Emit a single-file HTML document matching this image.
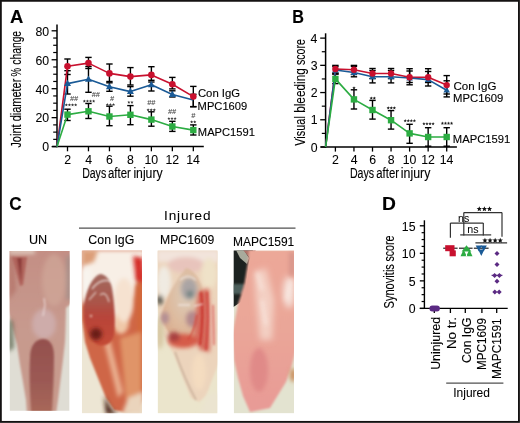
<!DOCTYPE html>
<html><head><meta charset="utf-8"><style>
html,body{margin:0;padding:0;background:#fff;}
svg{display:block;will-change:transform;font-family:"Liberation Sans", sans-serif;}
</style></head><body>
<svg width="520" height="423" viewBox="0 0 520 423" font-family='"Liberation Sans", sans-serif'>
<rect width="520" height="423" fill="#fff"/>
<defs>
<filter id="b05" x="-20%" y="-20%" width="140%" height="140%"><feGaussianBlur stdDeviation="0.5"/></filter>
<filter id="b1" x="-20%" y="-20%" width="140%" height="140%"><feGaussianBlur stdDeviation="0.9"/></filter>
<filter id="b2" x="-30%" y="-30%" width="160%" height="160%"><feGaussianBlur stdDeviation="2"/></filter>
<filter id="b3" x="-40%" y="-40%" width="180%" height="180%"><feGaussianBlur stdDeviation="3.2"/></filter>
<clipPath id="cUN"><rect x="9.6" y="251" width="60" height="159.8"/></clipPath>
<clipPath id="cCI"><rect x="81.8" y="250.6" width="60.2" height="162.6"/></clipPath>
<clipPath id="cMP"><rect x="157.6" y="250.6" width="59.8" height="162.6"/></clipPath>
<clipPath id="cMA"><rect x="233.7" y="250.6" width="60.3" height="162.6"/></clipPath>
<linearGradient id="gUNov" x1="0" y1="0" x2="0" y2="1"><stop offset="0" stop-color="#94504e"/><stop offset="0.6" stop-color="#9c5a54"/><stop offset="1" stop-color="#a8685a"/></linearGradient>
<linearGradient id="gUNleg" x1="0" y1="0" x2="0" y2="1"><stop offset="0" stop-color="#c48e84"/><stop offset="0.5" stop-color="#c79a8e"/><stop offset="1" stop-color="#c89a8c"/></linearGradient>
<radialGradient id="gCIdome" cx="0.5" cy="0.3" r="0.75"><stop offset="0" stop-color="#c07060"/><stop offset="0.5" stop-color="#b84e40"/><stop offset="1" stop-color="#c4503a"/></radialGradient>
<linearGradient id="gMAleg" x1="0" y1="0" x2="0" y2="1"><stop offset="0" stop-color="#eca898"/><stop offset="0.5" stop-color="#eaa698"/><stop offset="1" stop-color="#e89a96"/></linearGradient>
<radialGradient id="gMPdome" cx="0.55" cy="0.35" r="0.7"><stop offset="0" stop-color="#dccbb8"/><stop offset="0.6" stop-color="#deb99c"/><stop offset="1" stop-color="#d6a88a"/></radialGradient>
</defs>
<g clip-path="url(#cUN)">
<rect x="9.6" y="251" width="60" height="160" fill="#dfddd4"/>
<g filter="url(#b1)">
<path d="M5,246 L75,246 L75,300 L66,308 L65.5,330 L65,342 L63,360 L60.5,380 L58,400 L56,414 L27,414 L26,400 L23,382 L20,365 L17,345 L13,330 L8,310 Z" fill="url(#gUNleg)"/>
</g>
<g filter="url(#b2)">
<path d="M9,256 L14,256 L16,290 L9,300 Z" fill="#b87a70"/>
<ellipse cx="54" cy="280" rx="12" ry="26" fill="#d0a898" opacity="0.7"/>
<ellipse cx="44" cy="324" rx="12" ry="15" fill="#d0b0b2" opacity="0.8"/>
<path d="M8,318 L13,322 L14,348 L8,352 Z" fill="#56624a" opacity="0.75"/>
<rect x="66" y="256" width="6" height="44" fill="#9d8f8a" opacity="0.7"/>
<rect x="9" y="249" width="26" height="5" fill="#e2d0c4" opacity="0.9"/>
</g>
<g filter="url(#b1)">
<path d="M12,257 L27,257 L23,285 L20,286 Z" fill="#b0645c"/>
<path d="M17,258 L22,258 L21,282 Z" fill="#8e3c3a"/>
<path d="M44,298 L45,305 L43,316" stroke="#efe0e0" stroke-width="1" fill="none"/>
</g>
<g filter="url(#b1)">
<path d="M30,358 C30,345 36,339 43,339 C50,339 54,345 54,356 C54,375 53,393 52,412 L31,412 C30,395 29,375 30,358 Z" fill="url(#gUNov)"/>
</g>
</g>
<g clip-path="url(#cCI)">
<rect x="81.8" y="250.6" width="61" height="163" fill="#ede6d4"/>
<g filter="url(#b1)">
<path d="M82,250 L145,250 L145,395 L138,408 L124,412 L114,410 L106,398 L98,378 L90,358 L85,342 L82,320 Z" fill="#cf6646"/>
</g>
<g filter="url(#b2)">
<path d="M82,250 L145,250 L145,262 L138,275 L135,295 L130,318 L122,334 L112,326 L106,292 L92,290 L82,300 Z" fill="#f8efe6"/>
<ellipse cx="121" cy="322" rx="8" ry="12" fill="#f0c8a8"/>
<ellipse cx="124" cy="300" rx="10" ry="22" fill="#f6e2d0"/>
</g>
<g filter="url(#b2)">
<path d="M82,250 L98,250 L94,262 L82,266 Z" fill="#dc9e78"/>
<path d="M82,268 L92,270 L90,300 L82,305 Z" fill="#f8f4ee"/>
<path d="M133,256 L143,258 L143,284 L136,280 Z" fill="#d42c28"/>
<path d="M136,285 L144,282 L144,400 L137,400 Z" fill="#d2683a"/>
<path d="M120,338 L141,332 L141,395 L126,400 Z" fill="#e09468"/>
<path d="M104,342 L110,340 L123,392 L118,398 Z" fill="#eab090"/>
<path d="M128,398 L143,392 L143,414 L122,414 Z" fill="#ead4bc"/>
</g>
<linearGradient id="gCId2" x1="0" y1="0" x2="0" y2="1"><stop offset="0" stop-color="#a46a60"/><stop offset="0.35" stop-color="#a8584c"/><stop offset="0.6" stop-color="#b8443a"/><stop offset="1" stop-color="#c44a36"/></linearGradient>
<g filter="url(#b1)">
<path d="M100,274 C92,277 86,290 84,305 C83,322 86,336 96,344 C104,348 112,344 114,335 C116,318 114,300 112,288 C110,279 105,274 100,274 Z" fill="url(#gCId2)"/>
</g>
<g filter="url(#b2)">
<circle cx="96" cy="334" r="6" fill="#6a1a16"/>
<path d="M104,396 L112,410 L118,414 L106,414 Z" fill="#4a2418"/>
</g>
<g filter="url(#b1)" opacity="0.7">
<path d="M92,289 Q100,278 111,281" stroke="#f4ece8" stroke-width="1.6" fill="none"/>
<path d="M100,295 Q106,290 109,302" stroke="#f4ece8" stroke-width="1.4" fill="none"/>
<path d="M89,300 L96,292" stroke="#f4ece8" stroke-width="1.2" fill="none"/>
<circle cx="91" cy="316" r="1.3" fill="#f0e0d0"/>
</g>
</g>
<g clip-path="url(#cMP)">
<rect x="157.6" y="250.6" width="60" height="163" fill="#ebe5cc"/>
<g filter="url(#b1)">
<path d="M157,250 L220,250 L220,360 L212,380 L206,396 L199,402 L191,398 L183,378 L174,355 L165,338 L160,320 L157,300 Z" fill="#ecd4bc"/>
</g>
<g filter="url(#b2)">
<rect x="157" y="250" width="62" height="12" fill="#f2e4dc"/>
<ellipse cx="186" cy="265" rx="18" ry="8" fill="#e8c4bc"/>
<ellipse cx="164" cy="282" rx="7" ry="16" fill="#f0ebe2"/>
<ellipse cx="209" cy="274" rx="8" ry="16" fill="#efe2c8"/>
<ellipse cx="160" cy="300" rx="3" ry="5" fill="#4e5048"/>
<ellipse cx="160" cy="333" rx="4" ry="16" fill="#d8c8a4"/>
<ellipse cx="212" cy="325" rx="5" ry="22" fill="#ecc8b8"/>
</g>
<g filter="url(#b1)">
<path d="M186,268 C196,270 203,285 205,300 C205,318 199,335 188,345 C178,345 168,335 161,318 C163,305 172,285 186,268 Z" fill="url(#gMPdome)"/>
</g>
<g filter="url(#b2)">
<ellipse cx="189" cy="289" rx="8" ry="11" fill="#aaa4a4"/>
<circle cx="190" cy="294" r="3.5" fill="#6e8280"/>
<ellipse cx="192" cy="319" rx="6" ry="8" fill="#a87c88" opacity="0.8"/>
<ellipse cx="165" cy="318" rx="4" ry="6" fill="#a88494" opacity="0.8"/>
<path d="M198,292 L209,288 L210,352 L200,350 L194,336 Z" fill="#d66a5c"/>
<ellipse cx="183" cy="341" rx="15" ry="7" fill="#d65c48"/>
<ellipse cx="174" cy="337" rx="6" ry="5" fill="#a84040"/>
<ellipse cx="199" cy="372" rx="7" ry="18" fill="#f4dcc0"/>
<path d="M207,395 L218,392 L218,414 L200,414 Z" fill="#ebe4d0"/>
</g>
<g filter="url(#b1)">
<path d="M201,292 Q204,315 200,345" stroke="#c8302c" stroke-width="2" fill="none"/>
<path d="M207,292 Q209,318 206,350" stroke="#cc3a34" stroke-width="1.6" fill="none"/>
<path d="M213,305 L214,345" stroke="#d85a50" stroke-width="1.2" fill="none"/>
<path d="M197,315 Q195,330 188,340" stroke="#d24a3e" stroke-width="1.5" fill="none"/>
</g>
<g filter="url(#b1)" opacity="0.35">
<path d="M175,352 Q185,380 196,400" stroke="#6a5040" stroke-width="1.2" fill="none"/>
</g>
<g filter="url(#b1)" opacity="0.7">
<path d="M180,280 Q188,273 196,280" stroke="#f6f0ee" stroke-width="1.4" fill="none"/>
<path d="M178,305 L190,305 M194,306 L203,304" stroke="#f6f0ee" stroke-width="1.4" fill="none"/>
</g>
</g>
<g clip-path="url(#cMA)">
<rect x="233.7" y="250.6" width="61" height="163" fill="#e3e3d0"/>
<path d="M232,250 L253,250 L249,262 L246,285 L241,302 L232,308 Z" fill="#1c2220"/>
<g filter="url(#b05)"><path d="M236,250 L244,250 L249,258 L247,264 L240,258 Z" fill="#a8aa9c"/><path d="M243,250 L256,250 L250,258 Z" fill="#b07268"/></g>
<g filter="url(#b1)">
<path d="M232,284 L246,284 L244,294 L232,294 Z" fill="#586e6c" opacity="0.8"/>
<path d="M249,250 L297,250 L297,345 L292,365 L286,382 L278,395 L270,408 L250,412 L243,396 L238,378 L234,360 L232,335 L238,304 L244,286 L248,262 Z" fill="url(#gMAleg)"/>
</g>
<g filter="url(#b3)">
<path d="M254,272 L266,268 L274,300 L272,340 L260,340 L256,300 Z" fill="#f4d4c8" opacity="0.9"/>
<ellipse cx="289" cy="292" rx="6" ry="16" fill="#f6e2da"/>
</g>
<g filter="url(#b2)" opacity="0.8">
<path d="M257,272 L262,290 M262,300 L266,325" stroke="#fbeee8" stroke-width="2.5" fill="none"/>
<path d="M292,280 L286,300" stroke="#fbeee8" stroke-width="2.5" fill="none"/>
</g>
<g filter="url(#b2)">
<rect x="289" y="252" width="6" height="24" fill="#d8958a"/>
<ellipse cx="259" cy="370" rx="9" ry="22" fill="#e08a88"/>
<ellipse cx="293" cy="375" rx="3" ry="7" fill="#c98a58"/>
</g>
</g>
<text x="10.14" y="23.0" font-size="17.6" font-weight="bold" fill="#000" stroke="#000" stroke-width="0.12" textLength="13.35" lengthAdjust="spacingAndGlyphs" >A</text>
<line x1="57.0" y1="24.5" x2="57.0" y2="147.2" stroke="#000" stroke-width="1.5"/>
<line x1="51.6" y1="146.6" x2="57.0" y2="146.6" stroke="#000" stroke-width="1.3"/>
<line x1="53.2" y1="139.36249999999998" x2="57.0" y2="139.36249999999998" stroke="#000" stroke-width="1.2"/>
<line x1="53.2" y1="132.125" x2="57.0" y2="132.125" stroke="#000" stroke-width="1.2"/>
<line x1="53.2" y1="124.88749999999999" x2="57.0" y2="124.88749999999999" stroke="#000" stroke-width="1.2"/>
<line x1="51.6" y1="117.64999999999999" x2="57.0" y2="117.64999999999999" stroke="#000" stroke-width="1.3"/>
<line x1="53.2" y1="110.4125" x2="57.0" y2="110.4125" stroke="#000" stroke-width="1.2"/>
<line x1="53.2" y1="103.175" x2="57.0" y2="103.175" stroke="#000" stroke-width="1.2"/>
<line x1="53.2" y1="95.9375" x2="57.0" y2="95.9375" stroke="#000" stroke-width="1.2"/>
<line x1="51.6" y1="88.69999999999999" x2="57.0" y2="88.69999999999999" stroke="#000" stroke-width="1.3"/>
<line x1="53.2" y1="81.46249999999999" x2="57.0" y2="81.46249999999999" stroke="#000" stroke-width="1.2"/>
<line x1="53.2" y1="74.225" x2="57.0" y2="74.225" stroke="#000" stroke-width="1.2"/>
<line x1="53.2" y1="66.9875" x2="57.0" y2="66.9875" stroke="#000" stroke-width="1.2"/>
<line x1="51.6" y1="59.75" x2="57.0" y2="59.75" stroke="#000" stroke-width="1.3"/>
<line x1="53.2" y1="52.51249999999999" x2="57.0" y2="52.51249999999999" stroke="#000" stroke-width="1.2"/>
<line x1="53.2" y1="45.27499999999999" x2="57.0" y2="45.27499999999999" stroke="#000" stroke-width="1.2"/>
<line x1="53.2" y1="38.037499999999994" x2="57.0" y2="38.037499999999994" stroke="#000" stroke-width="1.2"/>
<line x1="51.6" y1="30.799999999999997" x2="57.0" y2="30.799999999999997" stroke="#000" stroke-width="1.3"/>
<text x="42.24" y="151.4" font-size="12.3" font-weight="normal" fill="#000" stroke="#000" stroke-width="0.06" textLength="6.84" lengthAdjust="spacingAndGlyphs" >0</text>
<text x="35.40" y="122.44999999999999" font-size="12.3" font-weight="normal" fill="#000" stroke="#000" stroke-width="0.06" textLength="13.68" lengthAdjust="spacingAndGlyphs" >20</text>
<text x="35.40" y="93.49999999999999" font-size="12.3" font-weight="normal" fill="#000" stroke="#000" stroke-width="0.06" textLength="13.68" lengthAdjust="spacingAndGlyphs" >40</text>
<text x="35.40" y="64.55" font-size="12.3" font-weight="normal" fill="#000" stroke="#000" stroke-width="0.06" textLength="13.68" lengthAdjust="spacingAndGlyphs" >60</text>
<text x="35.40" y="35.599999999999994" font-size="12.3" font-weight="normal" fill="#000" stroke="#000" stroke-width="0.06" textLength="13.68" lengthAdjust="spacingAndGlyphs" >80</text>
<line x1="52.2" y1="146.6" x2="203.8" y2="146.6" stroke="#000" stroke-width="1.5"/>
<line x1="67.5" y1="146.6" x2="67.5" y2="151.3" stroke="#000" stroke-width="1.3"/>
<text x="64.18" y="163.9" font-size="12.3" font-weight="normal" fill="#000" stroke="#000" stroke-width="0.06" textLength="6.84" lengthAdjust="spacingAndGlyphs" >2</text>
<line x1="88.47" y1="146.6" x2="88.47" y2="151.3" stroke="#000" stroke-width="1.3"/>
<text x="85.19" y="163.9" font-size="12.3" font-weight="normal" fill="#000" stroke="#000" stroke-width="0.06" textLength="6.84" lengthAdjust="spacingAndGlyphs" >4</text>
<line x1="109.44" y1="146.6" x2="109.44" y2="151.3" stroke="#000" stroke-width="1.3"/>
<text x="106.08" y="163.9" font-size="12.3" font-weight="normal" fill="#000" stroke="#000" stroke-width="0.06" textLength="6.84" lengthAdjust="spacingAndGlyphs" >6</text>
<line x1="130.41" y1="146.6" x2="130.41" y2="151.3" stroke="#000" stroke-width="1.3"/>
<text x="127.09" y="163.9" font-size="12.3" font-weight="normal" fill="#000" stroke="#000" stroke-width="0.06" textLength="6.84" lengthAdjust="spacingAndGlyphs" >8</text>
<line x1="151.38" y1="146.6" x2="151.38" y2="151.3" stroke="#000" stroke-width="1.3"/>
<text x="144.41" y="163.9" font-size="12.3" font-weight="normal" fill="#000" stroke="#000" stroke-width="0.06" textLength="13.68" lengthAdjust="spacingAndGlyphs" >10</text>
<line x1="172.35" y1="146.6" x2="172.35" y2="151.3" stroke="#000" stroke-width="1.3"/>
<text x="165.45" y="163.9" font-size="12.3" font-weight="normal" fill="#000" stroke="#000" stroke-width="0.06" textLength="13.68" lengthAdjust="spacingAndGlyphs" >12</text>
<line x1="193.32" y1="146.6" x2="193.32" y2="151.3" stroke="#000" stroke-width="1.3"/>
<text x="186.29" y="163.9" font-size="12.3" font-weight="normal" fill="#000" stroke="#000" stroke-width="0.06" textLength="13.68" lengthAdjust="spacingAndGlyphs" >14</text>
<text x="82.13" y="177.7" font-size="14.0" font-weight="normal" fill="#000" stroke="#000" stroke-width="0.12" textLength="24.05" lengthAdjust="spacingAndGlyphs" >Days</text>
<text x="108.02" y="177.7" font-size="14.0" font-weight="normal" fill="#000" stroke="#000" stroke-width="0.12" textLength="22.77" lengthAdjust="spacingAndGlyphs" >after</text>
<text x="133.38" y="177.7" font-size="14.0" font-weight="normal" fill="#000" stroke="#000" stroke-width="0.12" textLength="29.24" lengthAdjust="spacingAndGlyphs" >injury</text>
<text transform="translate(20.9,147.7) rotate(-90)" x="-0.17" y="0" font-size="13.8" fill="#000" stroke="#000" stroke-width="0.12" textLength="23.56" lengthAdjust="spacingAndGlyphs">Joint</text>
<text transform="translate(20.9,120.9) rotate(-90)" x="-0.46" y="0" font-size="13.8" fill="#000" stroke="#000" stroke-width="0.12" textLength="42.74" lengthAdjust="spacingAndGlyphs">diameter</text>
<text transform="translate(20.9,76.1) rotate(-90)" x="-0.34" y="0" font-size="13.8" fill="#000" stroke="#000" stroke-width="0.12" textLength="8.48" lengthAdjust="spacingAndGlyphs">%</text>
<text transform="translate(20.9,64.2) rotate(-90)" x="-0.44" y="0" font-size="13.8" fill="#000" stroke="#000" stroke-width="0.12" textLength="33.69" lengthAdjust="spacingAndGlyphs">change</text>
<line x1="67.5" y1="109.2" x2="67.5" y2="120.5" stroke="#000" stroke-width="1.4"/>
<line x1="64.3" y1="109.2" x2="70.7" y2="109.2" stroke="#000" stroke-width="1.4"/>
<line x1="64.3" y1="120.5" x2="70.7" y2="120.5" stroke="#000" stroke-width="1.4"/>
<line x1="88.47" y1="103.5" x2="88.47" y2="118.5" stroke="#000" stroke-width="1.4"/>
<line x1="85.27" y1="103.5" x2="91.67" y2="103.5" stroke="#000" stroke-width="1.4"/>
<line x1="85.27" y1="118.5" x2="91.67" y2="118.5" stroke="#000" stroke-width="1.4"/>
<line x1="109.44" y1="106.2" x2="109.44" y2="125.7" stroke="#000" stroke-width="1.4"/>
<line x1="106.24" y1="106.2" x2="112.64" y2="106.2" stroke="#000" stroke-width="1.4"/>
<line x1="106.24" y1="125.7" x2="112.64" y2="125.7" stroke="#000" stroke-width="1.4"/>
<line x1="130.41" y1="105.6" x2="130.41" y2="124.7" stroke="#000" stroke-width="1.4"/>
<line x1="127.21" y1="105.6" x2="133.60999999999999" y2="105.6" stroke="#000" stroke-width="1.4"/>
<line x1="127.21" y1="124.7" x2="133.60999999999999" y2="124.7" stroke="#000" stroke-width="1.4"/>
<line x1="151.38" y1="111.8" x2="151.38" y2="126.2" stroke="#000" stroke-width="1.4"/>
<line x1="148.18" y1="111.8" x2="154.57999999999998" y2="111.8" stroke="#000" stroke-width="1.4"/>
<line x1="148.18" y1="126.2" x2="154.57999999999998" y2="126.2" stroke="#000" stroke-width="1.4"/>
<line x1="172.35" y1="121.3" x2="172.35" y2="131.4" stroke="#000" stroke-width="1.4"/>
<line x1="169.15" y1="121.3" x2="175.54999999999998" y2="121.3" stroke="#000" stroke-width="1.4"/>
<line x1="169.15" y1="131.4" x2="175.54999999999998" y2="131.4" stroke="#000" stroke-width="1.4"/>
<line x1="193.32" y1="124.9" x2="193.32" y2="135.0" stroke="#000" stroke-width="1.4"/>
<line x1="190.12" y1="124.9" x2="196.51999999999998" y2="124.9" stroke="#000" stroke-width="1.4"/>
<line x1="190.12" y1="135.0" x2="196.51999999999998" y2="135.0" stroke="#000" stroke-width="1.4"/>
<line x1="67.5" y1="70.7" x2="67.5" y2="94.0" stroke="#000" stroke-width="1.4"/>
<line x1="64.3" y1="70.7" x2="70.7" y2="70.7" stroke="#000" stroke-width="1.4"/>
<line x1="64.3" y1="94.0" x2="70.7" y2="94.0" stroke="#000" stroke-width="1.4"/>
<line x1="88.47" y1="66.5" x2="88.47" y2="92.3" stroke="#000" stroke-width="1.4"/>
<line x1="85.27" y1="66.5" x2="91.67" y2="66.5" stroke="#000" stroke-width="1.4"/>
<line x1="85.27" y1="92.3" x2="91.67" y2="92.3" stroke="#000" stroke-width="1.4"/>
<line x1="109.44" y1="82.8" x2="109.44" y2="91.3" stroke="#000" stroke-width="1.4"/>
<line x1="106.24" y1="82.8" x2="112.64" y2="82.8" stroke="#000" stroke-width="1.4"/>
<line x1="106.24" y1="91.3" x2="112.64" y2="91.3" stroke="#000" stroke-width="1.4"/>
<line x1="130.41" y1="86.6" x2="130.41" y2="96.2" stroke="#000" stroke-width="1.4"/>
<line x1="127.21" y1="86.6" x2="133.60999999999999" y2="86.6" stroke="#000" stroke-width="1.4"/>
<line x1="127.21" y1="96.2" x2="133.60999999999999" y2="96.2" stroke="#000" stroke-width="1.4"/>
<line x1="151.38" y1="82.0" x2="151.38" y2="91.0" stroke="#000" stroke-width="1.4"/>
<line x1="148.18" y1="82.0" x2="154.57999999999998" y2="82.0" stroke="#000" stroke-width="1.4"/>
<line x1="148.18" y1="91.0" x2="154.57999999999998" y2="91.0" stroke="#000" stroke-width="1.4"/>
<line x1="172.35" y1="90.8" x2="172.35" y2="97.0" stroke="#000" stroke-width="1.4"/>
<line x1="169.15" y1="90.8" x2="175.54999999999998" y2="90.8" stroke="#000" stroke-width="1.4"/>
<line x1="169.15" y1="97.0" x2="175.54999999999998" y2="97.0" stroke="#000" stroke-width="1.4"/>
<line x1="193.32" y1="94.3" x2="193.32" y2="106.8" stroke="#000" stroke-width="1.4"/>
<line x1="190.12" y1="94.3" x2="196.51999999999998" y2="94.3" stroke="#000" stroke-width="1.4"/>
<line x1="190.12" y1="106.8" x2="196.51999999999998" y2="106.8" stroke="#000" stroke-width="1.4"/>
<line x1="67.5" y1="59.0" x2="67.5" y2="74.5" stroke="#000" stroke-width="1.4"/>
<line x1="64.3" y1="59.0" x2="70.7" y2="59.0" stroke="#000" stroke-width="1.4"/>
<line x1="64.3" y1="74.5" x2="70.7" y2="74.5" stroke="#000" stroke-width="1.4"/>
<line x1="88.47" y1="57.4" x2="88.47" y2="68.5" stroke="#000" stroke-width="1.4"/>
<line x1="85.27" y1="57.4" x2="91.67" y2="57.4" stroke="#000" stroke-width="1.4"/>
<line x1="85.27" y1="68.5" x2="91.67" y2="68.5" stroke="#000" stroke-width="1.4"/>
<line x1="109.44" y1="64.0" x2="109.44" y2="81.5" stroke="#000" stroke-width="1.4"/>
<line x1="106.24" y1="64.0" x2="112.64" y2="64.0" stroke="#000" stroke-width="1.4"/>
<line x1="106.24" y1="81.5" x2="112.64" y2="81.5" stroke="#000" stroke-width="1.4"/>
<line x1="130.41" y1="67.6" x2="130.41" y2="85.0" stroke="#000" stroke-width="1.4"/>
<line x1="127.21" y1="67.6" x2="133.60999999999999" y2="67.6" stroke="#000" stroke-width="1.4"/>
<line x1="127.21" y1="85.0" x2="133.60999999999999" y2="85.0" stroke="#000" stroke-width="1.4"/>
<line x1="151.38" y1="66.7" x2="151.38" y2="80.3" stroke="#000" stroke-width="1.4"/>
<line x1="148.18" y1="66.7" x2="154.57999999999998" y2="66.7" stroke="#000" stroke-width="1.4"/>
<line x1="148.18" y1="80.3" x2="154.57999999999998" y2="80.3" stroke="#000" stroke-width="1.4"/>
<line x1="172.35" y1="77.4" x2="172.35" y2="88.9" stroke="#000" stroke-width="1.4"/>
<line x1="169.15" y1="77.4" x2="175.54999999999998" y2="77.4" stroke="#000" stroke-width="1.4"/>
<line x1="169.15" y1="88.9" x2="175.54999999999998" y2="88.9" stroke="#000" stroke-width="1.4"/>
<line x1="193.32" y1="86.4" x2="193.32" y2="106.6" stroke="#000" stroke-width="1.4"/>
<line x1="190.12" y1="86.4" x2="196.51999999999998" y2="86.4" stroke="#000" stroke-width="1.4"/>
<line x1="190.12" y1="106.6" x2="196.51999999999998" y2="106.6" stroke="#000" stroke-width="1.4"/>
<polyline points="57.00,146.60 67.50,66.30 88.47,63.10 109.44,73.40 130.41,76.60 151.38,74.90 172.35,84.20 193.32,96.60" fill="none" stroke="#c8102e" stroke-width="1.6" stroke-linejoin="round"/>
<polyline points="57.00,146.60 67.50,83.60 88.47,79.20 109.44,86.80 130.41,91.60 151.38,84.80 172.35,94.40 193.32,100.10" fill="none" stroke="#1a5a96" stroke-width="1.6" stroke-linejoin="round"/>
<polyline points="57.00,146.60 67.50,114.60 88.47,111.30 109.44,116.50 130.41,114.80 151.38,119.60 172.35,126.50 193.32,130.10" fill="none" stroke="#2cac42" stroke-width="1.6" stroke-linejoin="round"/>
<polygon points="67.50,79.82 71.00,86.12 64.00,86.12" fill="#1a5a96"/>
<polygon points="88.47,75.42 91.97,81.72 84.97,81.72" fill="#1a5a96"/>
<polygon points="109.44,83.02 112.94,89.32 105.94,89.32" fill="#1a5a96"/>
<polygon points="130.41,87.82 133.91,94.12 126.91,94.12" fill="#1a5a96"/>
<polygon points="151.38,81.02 154.88,87.32 147.88,87.32" fill="#1a5a96"/>
<polygon points="172.35,90.62 175.85,96.92 168.85,96.92" fill="#1a5a96"/>
<circle cx="67.5" cy="66.3" r="3.3" fill="#c8102e"/>
<circle cx="88.47" cy="63.1" r="3.3" fill="#c8102e"/>
<circle cx="109.44" cy="73.4" r="3.3" fill="#c8102e"/>
<circle cx="130.41" cy="76.6" r="3.3" fill="#c8102e"/>
<circle cx="151.38" cy="74.9" r="3.3" fill="#c8102e"/>
<circle cx="172.35" cy="84.2" r="3.3" fill="#c8102e"/>
<circle cx="193.32" cy="96.6" r="3.3" fill="#c8102e"/>
<rect x="64.3" y="111.39999999999999" width="6.4" height="6.4" fill="#2cac42"/>
<rect x="85.27" y="108.1" width="6.4" height="6.4" fill="#2cac42"/>
<rect x="106.24" y="113.3" width="6.4" height="6.4" fill="#2cac42"/>
<rect x="127.21" y="111.6" width="6.4" height="6.4" fill="#2cac42"/>
<rect x="148.18" y="116.39999999999999" width="6.4" height="6.4" fill="#2cac42"/>
<rect x="169.15" y="123.3" width="6.4" height="6.4" fill="#2cac42"/>
<rect x="190.12" y="126.89999999999999" width="6.4" height="6.4" fill="#2cac42"/>
<text x="73.9" y="100.5" font-size="7.2" text-anchor="middle" font-weight="normal" fill="#4a4a4a" font-style="italic" stroke="#4a4a4a" stroke-width="0.1">##</text>
<polygon points="66.35,103.31 66.79,104.36 67.92,104.46 67.06,105.19 67.32,106.30 66.35,105.71 65.38,106.30 65.64,105.19 64.78,104.46 65.91,104.36" fill="#383838"/>
<polygon points="69.45,103.31 69.89,104.36 71.02,104.46 70.16,105.19 70.42,106.30 69.45,105.71 68.48,106.30 68.74,105.19 67.88,104.46 69.01,104.36" fill="#383838"/>
<polygon points="72.55,103.31 72.99,104.36 74.12,104.46 73.26,105.19 73.52,106.30 72.55,105.71 71.58,106.30 71.84,105.19 70.98,104.46 72.11,104.36" fill="#383838"/>
<polygon points="75.65,103.31 76.09,104.36 77.22,104.46 76.36,105.19 76.62,106.30 75.65,105.71 74.68,106.30 74.94,105.19 74.08,104.46 75.21,104.36" fill="#383838"/>
<text x="95.7" y="97.3" font-size="7.2" text-anchor="middle" font-weight="normal" fill="#4a4a4a" font-style="italic" stroke="#4a4a4a" stroke-width="0.1">##</text>
<polygon points="84.35,99.52 84.79,100.56 85.92,100.66 85.06,101.39 85.32,102.50 84.35,101.91 83.38,102.50 83.64,101.39 82.78,100.66 83.91,100.56" fill="#383838"/>
<polygon points="87.45,99.52 87.89,100.56 89.02,100.66 88.16,101.39 88.42,102.50 87.45,101.91 86.48,102.50 86.74,101.39 85.88,100.66 87.01,100.56" fill="#383838"/>
<polygon points="90.55,99.52 90.99,100.56 92.12,100.66 91.26,101.39 91.52,102.50 90.55,101.91 89.58,102.50 89.84,101.39 88.98,100.66 90.11,100.56" fill="#383838"/>
<polygon points="93.65,99.52 94.09,100.56 95.22,100.66 94.36,101.39 94.62,102.50 93.65,101.91 92.68,102.50 92.94,101.39 92.08,100.66 93.21,100.56" fill="#383838"/>
<text x="111.9" y="100.5" font-size="7.2" text-anchor="middle" font-weight="normal" fill="#4a4a4a" font-style="italic" stroke="#4a4a4a" stroke-width="0.1">#</text>
<polygon points="107.30,102.92 107.74,103.96 108.87,104.06 108.01,104.79 108.27,105.90 107.30,105.31 106.33,105.90 106.59,104.79 105.73,104.06 106.86,103.96" fill="#383838"/>
<polygon points="110.40,102.92 110.84,103.96 111.97,104.06 111.11,104.79 111.37,105.90 110.40,105.31 109.43,105.90 109.69,104.79 108.83,104.06 109.96,103.96" fill="#383838"/>
<polygon points="113.50,102.92 113.94,103.96 115.07,104.06 114.21,104.79 114.47,105.90 113.50,105.31 112.53,105.90 112.79,104.79 111.93,104.06 113.06,103.96" fill="#383838"/>
<polygon points="128.85,100.72 129.29,101.76 130.42,101.86 129.56,102.59 129.82,103.70 128.85,103.11 127.88,103.70 128.14,102.59 127.28,101.86 128.41,101.76" fill="#383838"/>
<polygon points="131.95,100.72 132.39,101.76 133.52,101.86 132.66,102.59 132.92,103.70 131.95,103.11 130.98,103.70 131.24,102.59 130.38,101.86 131.51,101.76" fill="#383838"/>
<text x="151.2" y="104.89999999999999" font-size="7.2" text-anchor="middle" font-weight="normal" fill="#4a4a4a" font-style="italic" stroke="#4a4a4a" stroke-width="0.1">##</text>
<polygon points="148.10,108.31 148.54,109.36 149.67,109.46 148.81,110.19 149.07,111.30 148.10,110.71 147.13,111.30 147.39,110.19 146.53,109.46 147.66,109.36" fill="#383838"/>
<polygon points="151.20,108.31 151.64,109.36 152.77,109.46 151.91,110.19 152.17,111.30 151.20,110.71 150.23,111.30 150.49,110.19 149.63,109.46 150.76,109.36" fill="#383838"/>
<polygon points="154.30,108.31 154.74,109.36 155.87,109.46 155.01,110.19 155.27,111.30 154.30,110.71 153.33,111.30 153.59,110.19 152.73,109.46 153.86,109.36" fill="#383838"/>
<text x="172.0" y="114.1" font-size="7.2" text-anchor="middle" font-weight="normal" fill="#4a4a4a" font-style="italic" stroke="#4a4a4a" stroke-width="0.1">##</text>
<polygon points="168.90,116.92 169.34,117.96 170.47,118.06 169.61,118.79 169.87,119.90 168.90,119.31 167.93,119.90 168.19,118.79 167.33,118.06 168.46,117.96" fill="#383838"/>
<polygon points="172.00,116.92 172.44,117.96 173.57,118.06 172.71,118.79 172.97,119.90 172.00,119.31 171.03,119.90 171.29,118.79 170.43,118.06 171.56,117.96" fill="#383838"/>
<polygon points="175.10,116.92 175.54,117.96 176.67,118.06 175.81,118.79 176.07,119.90 175.10,119.31 174.13,119.90 174.39,118.79 173.53,118.06 174.66,117.96" fill="#383838"/>
<text x="193.2" y="118.1" font-size="7.2" text-anchor="middle" font-weight="normal" fill="#4a4a4a" font-style="italic" stroke="#4a4a4a" stroke-width="0.1">#</text>
<polygon points="191.65,120.31 192.09,121.36 193.22,121.46 192.36,122.19 192.62,123.30 191.65,122.71 190.68,123.30 190.94,122.19 190.08,121.46 191.21,121.36" fill="#383838"/>
<polygon points="194.75,120.31 195.19,121.36 196.32,121.46 195.46,122.19 195.72,123.30 194.75,122.71 193.78,123.30 194.04,122.19 193.18,121.46 194.31,121.36" fill="#383838"/>
<text x="197.92" y="97.1" font-size="11.0" font-weight="normal" fill="#000" stroke="#000" stroke-width="0.12" textLength="42.22" lengthAdjust="spacingAndGlyphs" >Con IgG</text>
<text x="197.58" y="109.9" font-size="11.0" font-weight="normal" fill="#000" stroke="#000" stroke-width="0.12" textLength="49.64" lengthAdjust="spacingAndGlyphs" >MPC1609</text>
<text x="197.83" y="136.4" font-size="11.0" font-weight="normal" fill="#000" stroke="#000" stroke-width="0.12" textLength="57.11" lengthAdjust="spacingAndGlyphs" >MAPC1591</text>
<text x="292.31" y="23.0" font-size="17.6" font-weight="bold" fill="#000" stroke="#000" stroke-width="0.12" textLength="11.72" lengthAdjust="spacingAndGlyphs" >B</text>
<line x1="325.6" y1="33.3" x2="325.6" y2="147.6" stroke="#000" stroke-width="1.5"/>
<line x1="320.2" y1="147.0" x2="325.6" y2="147.0" stroke="#000" stroke-width="1.3"/>
<line x1="321.8" y1="133.39" x2="325.6" y2="133.39" stroke="#000" stroke-width="1.2"/>
<line x1="320.2" y1="119.78" x2="325.6" y2="119.78" stroke="#000" stroke-width="1.3"/>
<line x1="321.8" y1="106.17" x2="325.6" y2="106.17" stroke="#000" stroke-width="1.2"/>
<line x1="320.2" y1="92.56" x2="325.6" y2="92.56" stroke="#000" stroke-width="1.3"/>
<line x1="321.8" y1="78.95" x2="325.6" y2="78.95" stroke="#000" stroke-width="1.2"/>
<line x1="320.2" y1="65.34" x2="325.6" y2="65.34" stroke="#000" stroke-width="1.3"/>
<line x1="321.8" y1="51.730000000000004" x2="325.6" y2="51.730000000000004" stroke="#000" stroke-width="1.2"/>
<line x1="320.2" y1="38.120000000000005" x2="325.6" y2="38.120000000000005" stroke="#000" stroke-width="1.3"/>
<text x="310.64" y="151.5" font-size="12.3" font-weight="normal" fill="#000" stroke="#000" stroke-width="0.06" textLength="6.84" lengthAdjust="spacingAndGlyphs" >0</text>
<text x="310.76" y="124.28" font-size="12.3" font-weight="normal" fill="#000" stroke="#000" stroke-width="0.06" textLength="6.84" lengthAdjust="spacingAndGlyphs" >1</text>
<text x="310.78" y="97.06" font-size="12.3" font-weight="normal" fill="#000" stroke="#000" stroke-width="0.06" textLength="6.84" lengthAdjust="spacingAndGlyphs" >2</text>
<text x="310.70" y="69.84" font-size="12.3" font-weight="normal" fill="#000" stroke="#000" stroke-width="0.06" textLength="6.84" lengthAdjust="spacingAndGlyphs" >3</text>
<text x="310.52" y="42.620000000000005" font-size="12.3" font-weight="normal" fill="#000" stroke="#000" stroke-width="0.06" textLength="6.84" lengthAdjust="spacingAndGlyphs" >4</text>
<line x1="320.8" y1="147.0" x2="456.9" y2="147.0" stroke="#000" stroke-width="1.5"/>
<line x1="335.4" y1="147.0" x2="335.4" y2="151.6" stroke="#000" stroke-width="1.3"/>
<text x="332.08" y="163.9" font-size="12.3" font-weight="normal" fill="#000" stroke="#000" stroke-width="0.06" textLength="6.84" lengthAdjust="spacingAndGlyphs" >2</text>
<line x1="353.95" y1="147.0" x2="353.95" y2="151.6" stroke="#000" stroke-width="1.3"/>
<text x="350.67" y="163.9" font-size="12.3" font-weight="normal" fill="#000" stroke="#000" stroke-width="0.06" textLength="6.84" lengthAdjust="spacingAndGlyphs" >4</text>
<line x1="372.5" y1="147.0" x2="372.5" y2="151.6" stroke="#000" stroke-width="1.3"/>
<text x="369.14" y="163.9" font-size="12.3" font-weight="normal" fill="#000" stroke="#000" stroke-width="0.06" textLength="6.84" lengthAdjust="spacingAndGlyphs" >6</text>
<line x1="391.04999999999995" y1="147.0" x2="391.04999999999995" y2="151.6" stroke="#000" stroke-width="1.3"/>
<text x="387.73" y="163.9" font-size="12.3" font-weight="normal" fill="#000" stroke="#000" stroke-width="0.06" textLength="6.84" lengthAdjust="spacingAndGlyphs" >8</text>
<line x1="409.59999999999997" y1="147.0" x2="409.59999999999997" y2="151.6" stroke="#000" stroke-width="1.3"/>
<text x="402.63" y="163.9" font-size="12.3" font-weight="normal" fill="#000" stroke="#000" stroke-width="0.06" textLength="13.68" lengthAdjust="spacingAndGlyphs" >10</text>
<line x1="428.15" y1="147.0" x2="428.15" y2="151.6" stroke="#000" stroke-width="1.3"/>
<text x="421.25" y="163.9" font-size="12.3" font-weight="normal" fill="#000" stroke="#000" stroke-width="0.06" textLength="13.68" lengthAdjust="spacingAndGlyphs" >12</text>
<line x1="446.7" y1="147.0" x2="446.7" y2="151.6" stroke="#000" stroke-width="1.3"/>
<text x="439.67" y="163.9" font-size="12.3" font-weight="normal" fill="#000" stroke="#000" stroke-width="0.06" textLength="13.68" lengthAdjust="spacingAndGlyphs" >14</text>
<text x="349.93" y="178.3" font-size="14.0" font-weight="normal" fill="#000" stroke="#000" stroke-width="0.12" textLength="24.15" lengthAdjust="spacingAndGlyphs" >Days</text>
<text x="376.32" y="178.3" font-size="14.0" font-weight="normal" fill="#000" stroke="#000" stroke-width="0.12" textLength="22.67" lengthAdjust="spacingAndGlyphs" >after</text>
<text x="400.87" y="178.3" font-size="14.0" font-weight="normal" fill="#000" stroke="#000" stroke-width="0.12" textLength="29.55" lengthAdjust="spacingAndGlyphs" >injury</text>
<text transform="translate(304.8,145.7) rotate(-90)" x="-0.05" y="0" font-size="13.8" fill="#000" stroke="#000" stroke-width="0.12" textLength="29.57" lengthAdjust="spacingAndGlyphs">Visual</text>
<text transform="translate(304.8,112.1) rotate(-90)" x="-0.76" y="0" font-size="13.8" fill="#000" stroke="#000" stroke-width="0.12" textLength="44.72" lengthAdjust="spacingAndGlyphs">bleeding</text>
<text transform="translate(304.8,64.8) rotate(-90)" x="-0.30" y="0" font-size="13.8" fill="#000" stroke="#000" stroke-width="0.12" textLength="26.07" lengthAdjust="spacingAndGlyphs">score</text>
<line x1="335.4" y1="74.0" x2="335.4" y2="83.6" stroke="#000" stroke-width="1.4"/>
<line x1="332.2" y1="74.0" x2="338.59999999999997" y2="74.0" stroke="#000" stroke-width="1.4"/>
<line x1="332.2" y1="83.6" x2="338.59999999999997" y2="83.6" stroke="#000" stroke-width="1.4"/>
<line x1="353.95" y1="89.8" x2="353.95" y2="109.0" stroke="#000" stroke-width="1.4"/>
<line x1="350.75" y1="89.8" x2="357.15" y2="89.8" stroke="#000" stroke-width="1.4"/>
<line x1="350.75" y1="109.0" x2="357.15" y2="109.0" stroke="#000" stroke-width="1.4"/>
<line x1="372.5" y1="100.4" x2="372.5" y2="119.1" stroke="#000" stroke-width="1.4"/>
<line x1="369.3" y1="100.4" x2="375.7" y2="100.4" stroke="#000" stroke-width="1.4"/>
<line x1="369.3" y1="119.1" x2="375.7" y2="119.1" stroke="#000" stroke-width="1.4"/>
<line x1="391.04999999999995" y1="110.6" x2="391.04999999999995" y2="129.1" stroke="#000" stroke-width="1.4"/>
<line x1="387.84999999999997" y1="110.6" x2="394.24999999999994" y2="110.6" stroke="#000" stroke-width="1.4"/>
<line x1="387.84999999999997" y1="129.1" x2="394.24999999999994" y2="129.1" stroke="#000" stroke-width="1.4"/>
<line x1="409.59999999999997" y1="124.3" x2="409.59999999999997" y2="143.3" stroke="#000" stroke-width="1.4"/>
<line x1="406.4" y1="124.3" x2="412.79999999999995" y2="124.3" stroke="#000" stroke-width="1.4"/>
<line x1="406.4" y1="143.3" x2="412.79999999999995" y2="143.3" stroke="#000" stroke-width="1.4"/>
<line x1="428.15" y1="127.7" x2="428.15" y2="146.2" stroke="#000" stroke-width="1.4"/>
<line x1="424.95" y1="127.7" x2="431.34999999999997" y2="127.7" stroke="#000" stroke-width="1.4"/>
<line x1="424.95" y1="146.2" x2="431.34999999999997" y2="146.2" stroke="#000" stroke-width="1.4"/>
<line x1="446.7" y1="127.7" x2="446.7" y2="146.2" stroke="#000" stroke-width="1.4"/>
<line x1="443.5" y1="127.7" x2="449.9" y2="127.7" stroke="#000" stroke-width="1.4"/>
<line x1="443.5" y1="146.2" x2="449.9" y2="146.2" stroke="#000" stroke-width="1.4"/>
<line x1="335.4" y1="66.5" x2="335.4" y2="74.0" stroke="#000" stroke-width="1.4"/>
<line x1="332.2" y1="66.5" x2="338.59999999999997" y2="66.5" stroke="#000" stroke-width="1.4"/>
<line x1="332.2" y1="74.0" x2="338.59999999999997" y2="74.0" stroke="#000" stroke-width="1.4"/>
<line x1="353.95" y1="66.3" x2="353.95" y2="76.8" stroke="#000" stroke-width="1.4"/>
<line x1="350.75" y1="66.3" x2="357.15" y2="66.3" stroke="#000" stroke-width="1.4"/>
<line x1="350.75" y1="76.8" x2="357.15" y2="76.8" stroke="#000" stroke-width="1.4"/>
<line x1="372.5" y1="70.5" x2="372.5" y2="82.9" stroke="#000" stroke-width="1.4"/>
<line x1="369.3" y1="70.5" x2="375.7" y2="70.5" stroke="#000" stroke-width="1.4"/>
<line x1="369.3" y1="82.9" x2="375.7" y2="82.9" stroke="#000" stroke-width="1.4"/>
<line x1="391.04999999999995" y1="70.5" x2="391.04999999999995" y2="82.9" stroke="#000" stroke-width="1.4"/>
<line x1="387.84999999999997" y1="70.5" x2="394.24999999999994" y2="70.5" stroke="#000" stroke-width="1.4"/>
<line x1="387.84999999999997" y1="82.9" x2="394.24999999999994" y2="82.9" stroke="#000" stroke-width="1.4"/>
<line x1="409.59999999999997" y1="71.0" x2="409.59999999999997" y2="82.5" stroke="#000" stroke-width="1.4"/>
<line x1="406.4" y1="71.0" x2="412.79999999999995" y2="71.0" stroke="#000" stroke-width="1.4"/>
<line x1="406.4" y1="82.5" x2="412.79999999999995" y2="82.5" stroke="#000" stroke-width="1.4"/>
<line x1="428.15" y1="71.5" x2="428.15" y2="82.5" stroke="#000" stroke-width="1.4"/>
<line x1="424.95" y1="71.5" x2="431.34999999999997" y2="71.5" stroke="#000" stroke-width="1.4"/>
<line x1="424.95" y1="82.5" x2="431.34999999999997" y2="82.5" stroke="#000" stroke-width="1.4"/>
<line x1="446.7" y1="80.8" x2="446.7" y2="96.9" stroke="#000" stroke-width="1.4"/>
<line x1="443.5" y1="80.8" x2="449.9" y2="80.8" stroke="#000" stroke-width="1.4"/>
<line x1="443.5" y1="96.9" x2="449.9" y2="96.9" stroke="#000" stroke-width="1.4"/>
<line x1="335.4" y1="65.4" x2="335.4" y2="73.0" stroke="#000" stroke-width="1.4"/>
<line x1="332.2" y1="65.4" x2="338.59999999999997" y2="65.4" stroke="#000" stroke-width="1.4"/>
<line x1="332.2" y1="73.0" x2="338.59999999999997" y2="73.0" stroke="#000" stroke-width="1.4"/>
<line x1="353.95" y1="65.4" x2="353.95" y2="74.5" stroke="#000" stroke-width="1.4"/>
<line x1="350.75" y1="65.4" x2="357.15" y2="65.4" stroke="#000" stroke-width="1.4"/>
<line x1="350.75" y1="74.5" x2="357.15" y2="74.5" stroke="#000" stroke-width="1.4"/>
<line x1="372.5" y1="68.5" x2="372.5" y2="78.5" stroke="#000" stroke-width="1.4"/>
<line x1="369.3" y1="68.5" x2="375.7" y2="68.5" stroke="#000" stroke-width="1.4"/>
<line x1="369.3" y1="78.5" x2="375.7" y2="78.5" stroke="#000" stroke-width="1.4"/>
<line x1="391.04999999999995" y1="68.5" x2="391.04999999999995" y2="78.5" stroke="#000" stroke-width="1.4"/>
<line x1="387.84999999999997" y1="68.5" x2="394.24999999999994" y2="68.5" stroke="#000" stroke-width="1.4"/>
<line x1="387.84999999999997" y1="78.5" x2="394.24999999999994" y2="78.5" stroke="#000" stroke-width="1.4"/>
<line x1="409.59999999999997" y1="68.7" x2="409.59999999999997" y2="84.8" stroke="#000" stroke-width="1.4"/>
<line x1="406.4" y1="68.7" x2="412.79999999999995" y2="68.7" stroke="#000" stroke-width="1.4"/>
<line x1="406.4" y1="84.8" x2="412.79999999999995" y2="84.8" stroke="#000" stroke-width="1.4"/>
<line x1="428.15" y1="68.7" x2="428.15" y2="86.0" stroke="#000" stroke-width="1.4"/>
<line x1="424.95" y1="68.7" x2="431.34999999999997" y2="68.7" stroke="#000" stroke-width="1.4"/>
<line x1="424.95" y1="86.0" x2="431.34999999999997" y2="86.0" stroke="#000" stroke-width="1.4"/>
<line x1="446.7" y1="75.6" x2="446.7" y2="94.0" stroke="#000" stroke-width="1.4"/>
<line x1="443.5" y1="75.6" x2="449.9" y2="75.6" stroke="#000" stroke-width="1.4"/>
<line x1="443.5" y1="94.0" x2="449.9" y2="94.0" stroke="#000" stroke-width="1.4"/>
<polyline points="325.60,147.00 335.40,69.00 353.95,69.80 372.50,73.50 391.05,73.50 409.60,77.30 428.15,77.30 446.70,85.10" fill="none" stroke="#c8102e" stroke-width="1.6" stroke-linejoin="round"/>
<polyline points="325.60,147.00 335.40,70.00 353.95,72.50 372.50,76.80 391.05,76.80 409.60,78.00 428.15,79.60 446.70,90.20" fill="none" stroke="#1a5a96" stroke-width="1.6" stroke-linejoin="round"/>
<polyline points="325.60,147.00 335.40,78.90 353.95,99.40 372.50,110.00 391.05,120.20 409.60,133.40 428.15,137.00 446.70,137.00" fill="none" stroke="#2cac42" stroke-width="1.6" stroke-linejoin="round"/>
<polygon points="335.40,66.44 338.70,72.38 332.10,72.38" fill="#1a5a96"/>
<polygon points="353.95,68.94 357.25,74.88 350.65,74.88" fill="#1a5a96"/>
<polygon points="372.50,73.24 375.80,79.18 369.20,79.18" fill="#1a5a96"/>
<polygon points="391.05,73.24 394.35,79.18 387.75,79.18" fill="#1a5a96"/>
<polygon points="409.60,74.44 412.90,80.38 406.30,80.38" fill="#1a5a96"/>
<polygon points="428.15,76.04 431.45,81.98 424.85,81.98" fill="#1a5a96"/>
<polygon points="446.70,86.64 450.00,92.58 443.40,92.58" fill="#1a5a96"/>
<circle cx="335.4" cy="69.0" r="3.2" fill="#c8102e"/>
<circle cx="353.95" cy="69.8" r="3.2" fill="#c8102e"/>
<circle cx="372.5" cy="73.5" r="3.2" fill="#c8102e"/>
<circle cx="391.04999999999995" cy="73.5" r="3.2" fill="#c8102e"/>
<circle cx="409.59999999999997" cy="77.3" r="3.2" fill="#c8102e"/>
<circle cx="428.15" cy="77.3" r="3.2" fill="#c8102e"/>
<circle cx="446.7" cy="85.1" r="3.2" fill="#c8102e"/>
<rect x="332.2" y="75.7" width="6.4" height="6.4" fill="#2cac42"/>
<rect x="350.75" y="96.2" width="6.4" height="6.4" fill="#2cac42"/>
<rect x="369.3" y="106.8" width="6.4" height="6.4" fill="#2cac42"/>
<rect x="387.84999999999997" y="117.0" width="6.4" height="6.4" fill="#2cac42"/>
<rect x="406.4" y="130.20000000000002" width="6.4" height="6.4" fill="#2cac42"/>
<rect x="424.95" y="133.8" width="6.4" height="6.4" fill="#2cac42"/>
<rect x="443.5" y="133.8" width="6.4" height="6.4" fill="#2cac42"/>
<polygon points="354.00,86.22 354.46,87.34 355.66,87.43 354.75,88.22 355.03,89.39 354.00,88.76 352.97,89.39 353.25,88.22 352.34,87.43 353.54,87.34" fill="#1a1a1a"/>
<polygon points="371.28,96.42 371.74,97.54 372.94,97.63 372.02,98.42 372.30,99.59 371.28,98.96 370.25,99.59 370.53,98.42 369.61,97.63 370.81,97.54" fill="#1a1a1a"/>
<polygon points="374.33,96.42 374.79,97.54 375.99,97.63 375.07,98.42 375.35,99.59 374.33,98.96 373.30,99.59 373.58,98.42 372.66,97.63 373.86,97.54" fill="#1a1a1a"/>
<polygon points="388.25,106.22 388.71,107.34 389.91,107.43 389.00,108.22 389.28,109.39 388.25,108.76 387.22,109.39 387.50,108.22 386.59,107.43 387.79,107.34" fill="#1a1a1a"/>
<polygon points="391.30,106.22 391.76,107.34 392.96,107.43 392.05,108.22 392.33,109.39 391.30,108.76 390.27,109.39 390.55,108.22 389.64,107.43 390.84,107.34" fill="#1a1a1a"/>
<polygon points="394.35,106.22 394.81,107.34 396.01,107.43 395.10,108.22 395.38,109.39 394.35,108.76 393.32,109.39 393.60,108.22 392.69,107.43 393.89,107.34" fill="#1a1a1a"/>
<polygon points="405.23,119.02 405.69,120.14 406.89,120.23 405.97,121.02 406.25,122.19 405.23,121.56 404.20,122.19 404.48,121.02 403.56,120.23 404.76,120.14" fill="#1a1a1a"/>
<polygon points="408.28,119.02 408.74,120.14 409.94,120.23 409.02,121.02 409.30,122.19 408.28,121.56 407.25,122.19 407.53,121.02 406.61,120.23 407.81,120.14" fill="#1a1a1a"/>
<polygon points="411.33,119.02 411.79,120.14 412.99,120.23 412.07,121.02 412.35,122.19 411.33,121.56 410.30,122.19 410.58,121.02 409.66,120.23 410.86,120.14" fill="#1a1a1a"/>
<polygon points="414.38,119.02 414.84,120.14 416.04,120.23 415.12,121.02 415.40,122.19 414.38,121.56 413.35,122.19 413.63,121.02 412.71,120.23 413.91,120.14" fill="#1a1a1a"/>
<polygon points="423.93,122.02 424.39,123.14 425.59,123.23 424.67,124.02 424.95,125.19 423.93,124.56 422.90,125.19 423.18,124.02 422.26,123.23 423.46,123.14" fill="#1a1a1a"/>
<polygon points="426.98,122.02 427.44,123.14 428.64,123.23 427.72,124.02 428.00,125.19 426.98,124.56 425.95,125.19 426.23,124.02 425.31,123.23 426.51,123.14" fill="#1a1a1a"/>
<polygon points="430.03,122.02 430.49,123.14 431.69,123.23 430.77,124.02 431.05,125.19 430.03,124.56 429.00,125.19 429.28,124.02 428.36,123.23 429.56,123.14" fill="#1a1a1a"/>
<polygon points="433.07,122.02 433.54,123.14 434.74,123.23 433.82,124.02 434.10,125.19 433.07,124.56 432.05,125.19 432.33,124.02 431.41,123.23 432.61,123.14" fill="#1a1a1a"/>
<polygon points="442.43,121.62 442.89,122.74 444.09,122.83 443.17,123.62 443.45,124.79 442.43,124.16 441.40,124.79 441.68,123.62 440.76,122.83 441.96,122.74" fill="#1a1a1a"/>
<polygon points="445.48,121.62 445.94,122.74 447.14,122.83 446.22,123.62 446.50,124.79 445.48,124.16 444.45,124.79 444.73,123.62 443.81,122.83 445.01,122.74" fill="#1a1a1a"/>
<polygon points="448.53,121.62 448.99,122.74 450.19,122.83 449.27,123.62 449.55,124.79 448.53,124.16 447.50,124.79 447.78,123.62 446.86,122.83 448.06,122.74" fill="#1a1a1a"/>
<polygon points="451.57,121.62 452.04,122.74 453.24,122.83 452.32,123.62 452.60,124.79 451.57,124.16 450.55,124.79 450.83,123.62 449.91,122.83 451.11,122.74" fill="#1a1a1a"/>
<text x="453.41" y="89.5" font-size="11.0" font-weight="normal" fill="#000" stroke="#000" stroke-width="0.12" textLength="43.05" lengthAdjust="spacingAndGlyphs" >Con IgG</text>
<text x="453.07" y="101.6" font-size="11.0" font-weight="normal" fill="#000" stroke="#000" stroke-width="0.12" textLength="50.26" lengthAdjust="spacingAndGlyphs" >MPC1609</text>
<text x="452.88" y="142.8" font-size="11.0" font-weight="normal" fill="#000" stroke="#000" stroke-width="0.12" textLength="57.47" lengthAdjust="spacingAndGlyphs" >MAPC1591</text>
<text x="9.20" y="210.3" font-size="17.6" font-weight="bold" fill="#000" stroke="#000" stroke-width="0.12" textLength="12.37" lengthAdjust="spacingAndGlyphs" >C</text>
<text x="164.04" y="220.3" font-size="13.6" font-weight="normal" fill="#000" stroke="#000" stroke-width="0.05" textLength="46.53" lengthAdjust="spacing" >Injured</text>
<line x1="79.0" y1="228.1" x2="295.5" y2="228.1" stroke="#505050" stroke-width="1.3"/>
<text x="29.03" y="244.1" font-size="12.2" font-weight="normal" fill="#000" stroke="#000" stroke-width="0.1" textLength="18.20" lengthAdjust="spacingAndGlyphs" >UN</text>
<text x="88.37" y="243.8" font-size="12.2" font-weight="normal" fill="#000" stroke="#000" stroke-width="0.1" textLength="45.95" lengthAdjust="spacingAndGlyphs" >Con IgG</text>
<text x="160.00" y="244.0" font-size="12.2" font-weight="normal" fill="#000" stroke="#000" stroke-width="0.1" textLength="54.33" lengthAdjust="spacingAndGlyphs" >MPC1609</text>
<text x="233.02" y="245.5" font-size="12.2" font-weight="normal" fill="#000" stroke="#000" stroke-width="0.1" textLength="61.27" lengthAdjust="spacingAndGlyphs" >MAPC1591</text>
<text x="381.91" y="210.0" font-size="17.6" font-weight="bold" fill="#000" stroke="#000" stroke-width="0.12" textLength="13.90" lengthAdjust="spacingAndGlyphs" >D</text>
<line x1="424.4" y1="220.3" x2="424.4" y2="309.0" stroke="#000" stroke-width="1.4"/>
<line x1="419.8" y1="308.4" x2="424.4" y2="308.4" stroke="#000" stroke-width="1.3"/>
<line x1="421.6" y1="301.51624999999996" x2="424.4" y2="301.51624999999996" stroke="#000" stroke-width="1.2"/>
<line x1="421.6" y1="294.6325" x2="424.4" y2="294.6325" stroke="#000" stroke-width="1.2"/>
<line x1="421.6" y1="287.74875" x2="424.4" y2="287.74875" stroke="#000" stroke-width="1.2"/>
<line x1="419.8" y1="280.865" x2="424.4" y2="280.865" stroke="#000" stroke-width="1.3"/>
<line x1="421.6" y1="273.98125" x2="424.4" y2="273.98125" stroke="#000" stroke-width="1.2"/>
<line x1="421.6" y1="267.09749999999997" x2="424.4" y2="267.09749999999997" stroke="#000" stroke-width="1.2"/>
<line x1="421.6" y1="260.21375" x2="424.4" y2="260.21375" stroke="#000" stroke-width="1.2"/>
<line x1="419.8" y1="253.32999999999998" x2="424.4" y2="253.32999999999998" stroke="#000" stroke-width="1.3"/>
<line x1="421.6" y1="246.44624999999996" x2="424.4" y2="246.44624999999996" stroke="#000" stroke-width="1.2"/>
<line x1="421.6" y1="239.5625" x2="424.4" y2="239.5625" stroke="#000" stroke-width="1.2"/>
<line x1="421.6" y1="232.67874999999998" x2="424.4" y2="232.67874999999998" stroke="#000" stroke-width="1.2"/>
<line x1="419.8" y1="225.795" x2="424.4" y2="225.795" stroke="#000" stroke-width="1.3"/>
<text x="408.64" y="313.4" font-size="12.3" font-weight="normal" fill="#000" stroke="#000" stroke-width="0.06" textLength="6.84" lengthAdjust="spacingAndGlyphs" >0</text>
<text x="408.68" y="285.865" font-size="12.3" font-weight="normal" fill="#000" stroke="#000" stroke-width="0.06" textLength="6.84" lengthAdjust="spacingAndGlyphs" >5</text>
<text x="401.80" y="258.33" font-size="12.3" font-weight="normal" fill="#000" stroke="#000" stroke-width="0.06" textLength="13.68" lengthAdjust="spacingAndGlyphs" >10</text>
<text x="401.84" y="230.795" font-size="12.3" font-weight="normal" fill="#000" stroke="#000" stroke-width="0.06" textLength="13.68" lengthAdjust="spacingAndGlyphs" >15</text>
<line x1="419.8" y1="308.4" x2="507.7" y2="308.4" stroke="#000" stroke-width="1.4"/>
<line x1="434.3" y1="308.4" x2="434.3" y2="313.0" stroke="#000" stroke-width="1.3"/>
<line x1="450.4" y1="308.4" x2="450.4" y2="313.0" stroke="#000" stroke-width="1.3"/>
<line x1="465.3" y1="308.4" x2="465.3" y2="313.0" stroke="#000" stroke-width="1.3"/>
<line x1="481.9" y1="308.4" x2="481.9" y2="313.0" stroke="#000" stroke-width="1.3"/>
<line x1="496.7" y1="308.4" x2="496.7" y2="313.0" stroke="#000" stroke-width="1.3"/>
<text transform="translate(440.1,368.9) rotate(-90)" x="-0.95" y="0" font-size="12.0" fill="#000" stroke="#000" stroke-width="0.12" textLength="52.85" lengthAdjust="spacingAndGlyphs">Uninjured</text>
<text transform="translate(456.2,348.0) rotate(-90)" x="-1.07" y="0" font-size="12.0" fill="#000" stroke="#000" stroke-width="0.12" textLength="31.97" lengthAdjust="spacingAndGlyphs">No tr.</text>
<text transform="translate(471.1,362.4) rotate(-90)" x="-0.62" y="0" font-size="12.0" fill="#000" stroke="#000" stroke-width="0.12" textLength="45.64" lengthAdjust="spacingAndGlyphs">Con IgG</text>
<text transform="translate(486.3,369.0) rotate(-90)" x="-0.96" y="0" font-size="12.0" fill="#000" stroke="#000" stroke-width="0.12" textLength="51.91" lengthAdjust="spacingAndGlyphs">MPC1609</text>
<text transform="translate(500.9,378.1) rotate(-90)" x="-0.97" y="0" font-size="12.0" fill="#000" stroke="#000" stroke-width="0.12" textLength="60.75" lengthAdjust="spacingAndGlyphs">MAPC1591</text>
<line x1="446.2" y1="383.2" x2="503.4" y2="383.2" stroke="#505050" stroke-width="1.3"/>
<text x="453.29" y="397.0" font-size="12.2" font-weight="normal" fill="#000" stroke="#000" stroke-width="0.05" textLength="36.68" lengthAdjust="spacingAndGlyphs" >Injured</text>
<text transform="translate(393.8,308.0) rotate(-90)" x="-0.50" y="0" font-size="13.8" fill="#000" stroke="#000" stroke-width="0.12" textLength="44.40" lengthAdjust="spacingAndGlyphs">Synovitis</text>
<text transform="translate(393.8,261.3) rotate(-90)" x="-0.30" y="0" font-size="13.8" fill="#000" stroke="#000" stroke-width="0.12" textLength="26.17" lengthAdjust="spacingAndGlyphs">score</text>
<line x1="443.2" y1="248.2" x2="457.6" y2="248.2" stroke="#111" stroke-width="1.1"/>
<line x1="459.0" y1="248.2" x2="472.6" y2="248.2" stroke="#111" stroke-width="1.1"/>
<line x1="473.8" y1="248.2" x2="488.6" y2="248.2" stroke="#111" stroke-width="1.1"/>
<rect x="445.2" y="245.2" width="9.3" height="6.0" fill="#c8102e"/>
<rect x="449.6" y="250.4" width="6.2" height="5.9" fill="#c8102e"/>
<polygon points="466.5,245.2 471.4,251.6 461.6,251.6" fill="#2cac42"/>
<polygon points="463.6,249.6 466.8,256.3 460.5,256.3" fill="#2cac42"/>
<polygon points="469.4,249.6 472.5,256.3 466.2,256.3" fill="#2cac42"/>
<polygon points="465.7,256.4 466.5,252.8 467.3,256.4" fill="#fff"/>
<polygon points="475.7,245.4 481.9,245.4 478.8,251.6" fill="#1a5a96"/>
<polygon points="480.6,245.4 486.8,245.4 483.7,251.6" fill="#1a5a96"/>
<polygon points="478.2,249.4 484.4,249.4 481.3,255.9" fill="#1a5a96"/>
<polygon points="497,250.9 499.5,253.4 497,255.9 494.5,253.4" fill="#5b2a83"/>
<polygon points="497,262.0 499.5,264.5 497,267.0 494.5,264.5" fill="#5b2a83"/>
<polygon points="494.6,272.9 497.1,275.4 494.6,277.9 492.1,275.4" fill="#5b2a83"/>
<polygon points="499.4,272.9 501.9,275.4 499.4,277.9 496.9,275.4" fill="#5b2a83"/>
<polygon points="497,278.7 499.5,281.2 497,283.7 494.5,281.2" fill="#5b2a83"/>
<polygon points="494.8,289.5 497.3,292.0 494.8,294.5 492.3,292.0" fill="#5b2a83"/>
<polygon points="499.2,289.5 501.7,292.0 499.2,294.5 496.7,292.0" fill="#5b2a83"/>
<line x1="491.6" y1="275.4" x2="502.4" y2="275.4" stroke="#5b2a83" stroke-width="1.3"/>
<circle cx="432.4" cy="308.4" r="3.0" fill="#5b2a83"/>
<circle cx="434.6" cy="308.4" r="3.0" fill="#5b2a83"/>
<circle cx="436.9" cy="308.4" r="3.0" fill="#5b2a83"/>
<line x1="463.8" y1="212.6" x2="502.0" y2="212.6" stroke="#333" stroke-width="1.2"/>
<line x1="463.8" y1="212.6" x2="463.8" y2="235.4" stroke="#333" stroke-width="1.2"/>
<line x1="502.0" y1="212.6" x2="502.0" y2="236.8" stroke="#333" stroke-width="1.2"/>
<line x1="450.4" y1="223.1" x2="483.3" y2="223.1" stroke="#333" stroke-width="1.2"/>
<line x1="450.4" y1="223.1" x2="450.4" y2="237.8" stroke="#333" stroke-width="1.2"/>
<line x1="483.3" y1="223.1" x2="483.3" y2="235.4" stroke="#333" stroke-width="1.2"/>
<line x1="460.2" y1="234.9" x2="491.2" y2="234.9" stroke="#333" stroke-width="1.2"/>
<line x1="475.4" y1="242.9" x2="507.1" y2="242.9" stroke="#333" stroke-width="1.2"/>
<polygon points="479.30,206.18 480.04,207.96 481.96,208.11 480.50,209.37 480.95,211.25 479.30,210.24 477.65,211.25 478.10,209.37 476.64,208.11 478.56,207.96" fill="#111"/>
<polygon points="484.40,206.18 485.14,207.96 487.06,208.11 485.60,209.37 486.05,211.25 484.40,210.24 482.75,211.25 483.20,209.37 481.74,208.11 483.66,207.96" fill="#111"/>
<polygon points="489.50,206.18 490.24,207.96 492.16,208.11 490.70,209.37 491.15,211.25 489.50,210.24 487.85,211.25 488.30,209.37 486.84,208.11 488.76,207.96" fill="#111"/>
<text x="463.6" y="221.7" font-size="11.0" text-anchor="middle" font-weight="normal" fill="#000" textLength="11.2" lengthAdjust="spacingAndGlyphs" >ns</text>
<text x="473.0" y="232.6" font-size="11.0" text-anchor="middle" font-weight="normal" fill="#000" textLength="11.3" lengthAdjust="spacingAndGlyphs" >ns</text>
<polygon points="484.95,237.68 485.69,239.46 487.61,239.61 486.15,240.87 486.60,242.75 484.95,241.74 483.30,242.75 483.75,240.87 482.29,239.61 484.21,239.46" fill="#111"/>
<polygon points="490.05,237.68 490.79,239.46 492.71,239.61 491.25,240.87 491.70,242.75 490.05,241.74 488.40,242.75 488.85,240.87 487.39,239.61 489.31,239.46" fill="#111"/>
<polygon points="495.15,237.68 495.89,239.46 497.81,239.61 496.35,240.87 496.80,242.75 495.15,241.74 493.50,242.75 493.95,240.87 492.49,239.61 494.41,239.46" fill="#111"/>
<polygon points="500.25,237.68 500.99,239.46 502.91,239.61 501.45,240.87 501.90,242.75 500.25,241.74 498.60,242.75 499.05,240.87 497.59,239.61 499.51,239.46" fill="#111"/>
<rect x="0.85" y="0.8" width="518.1" height="421.1" fill="none" stroke="#141212" stroke-width="1.9"/>
</svg>
</body></html>
